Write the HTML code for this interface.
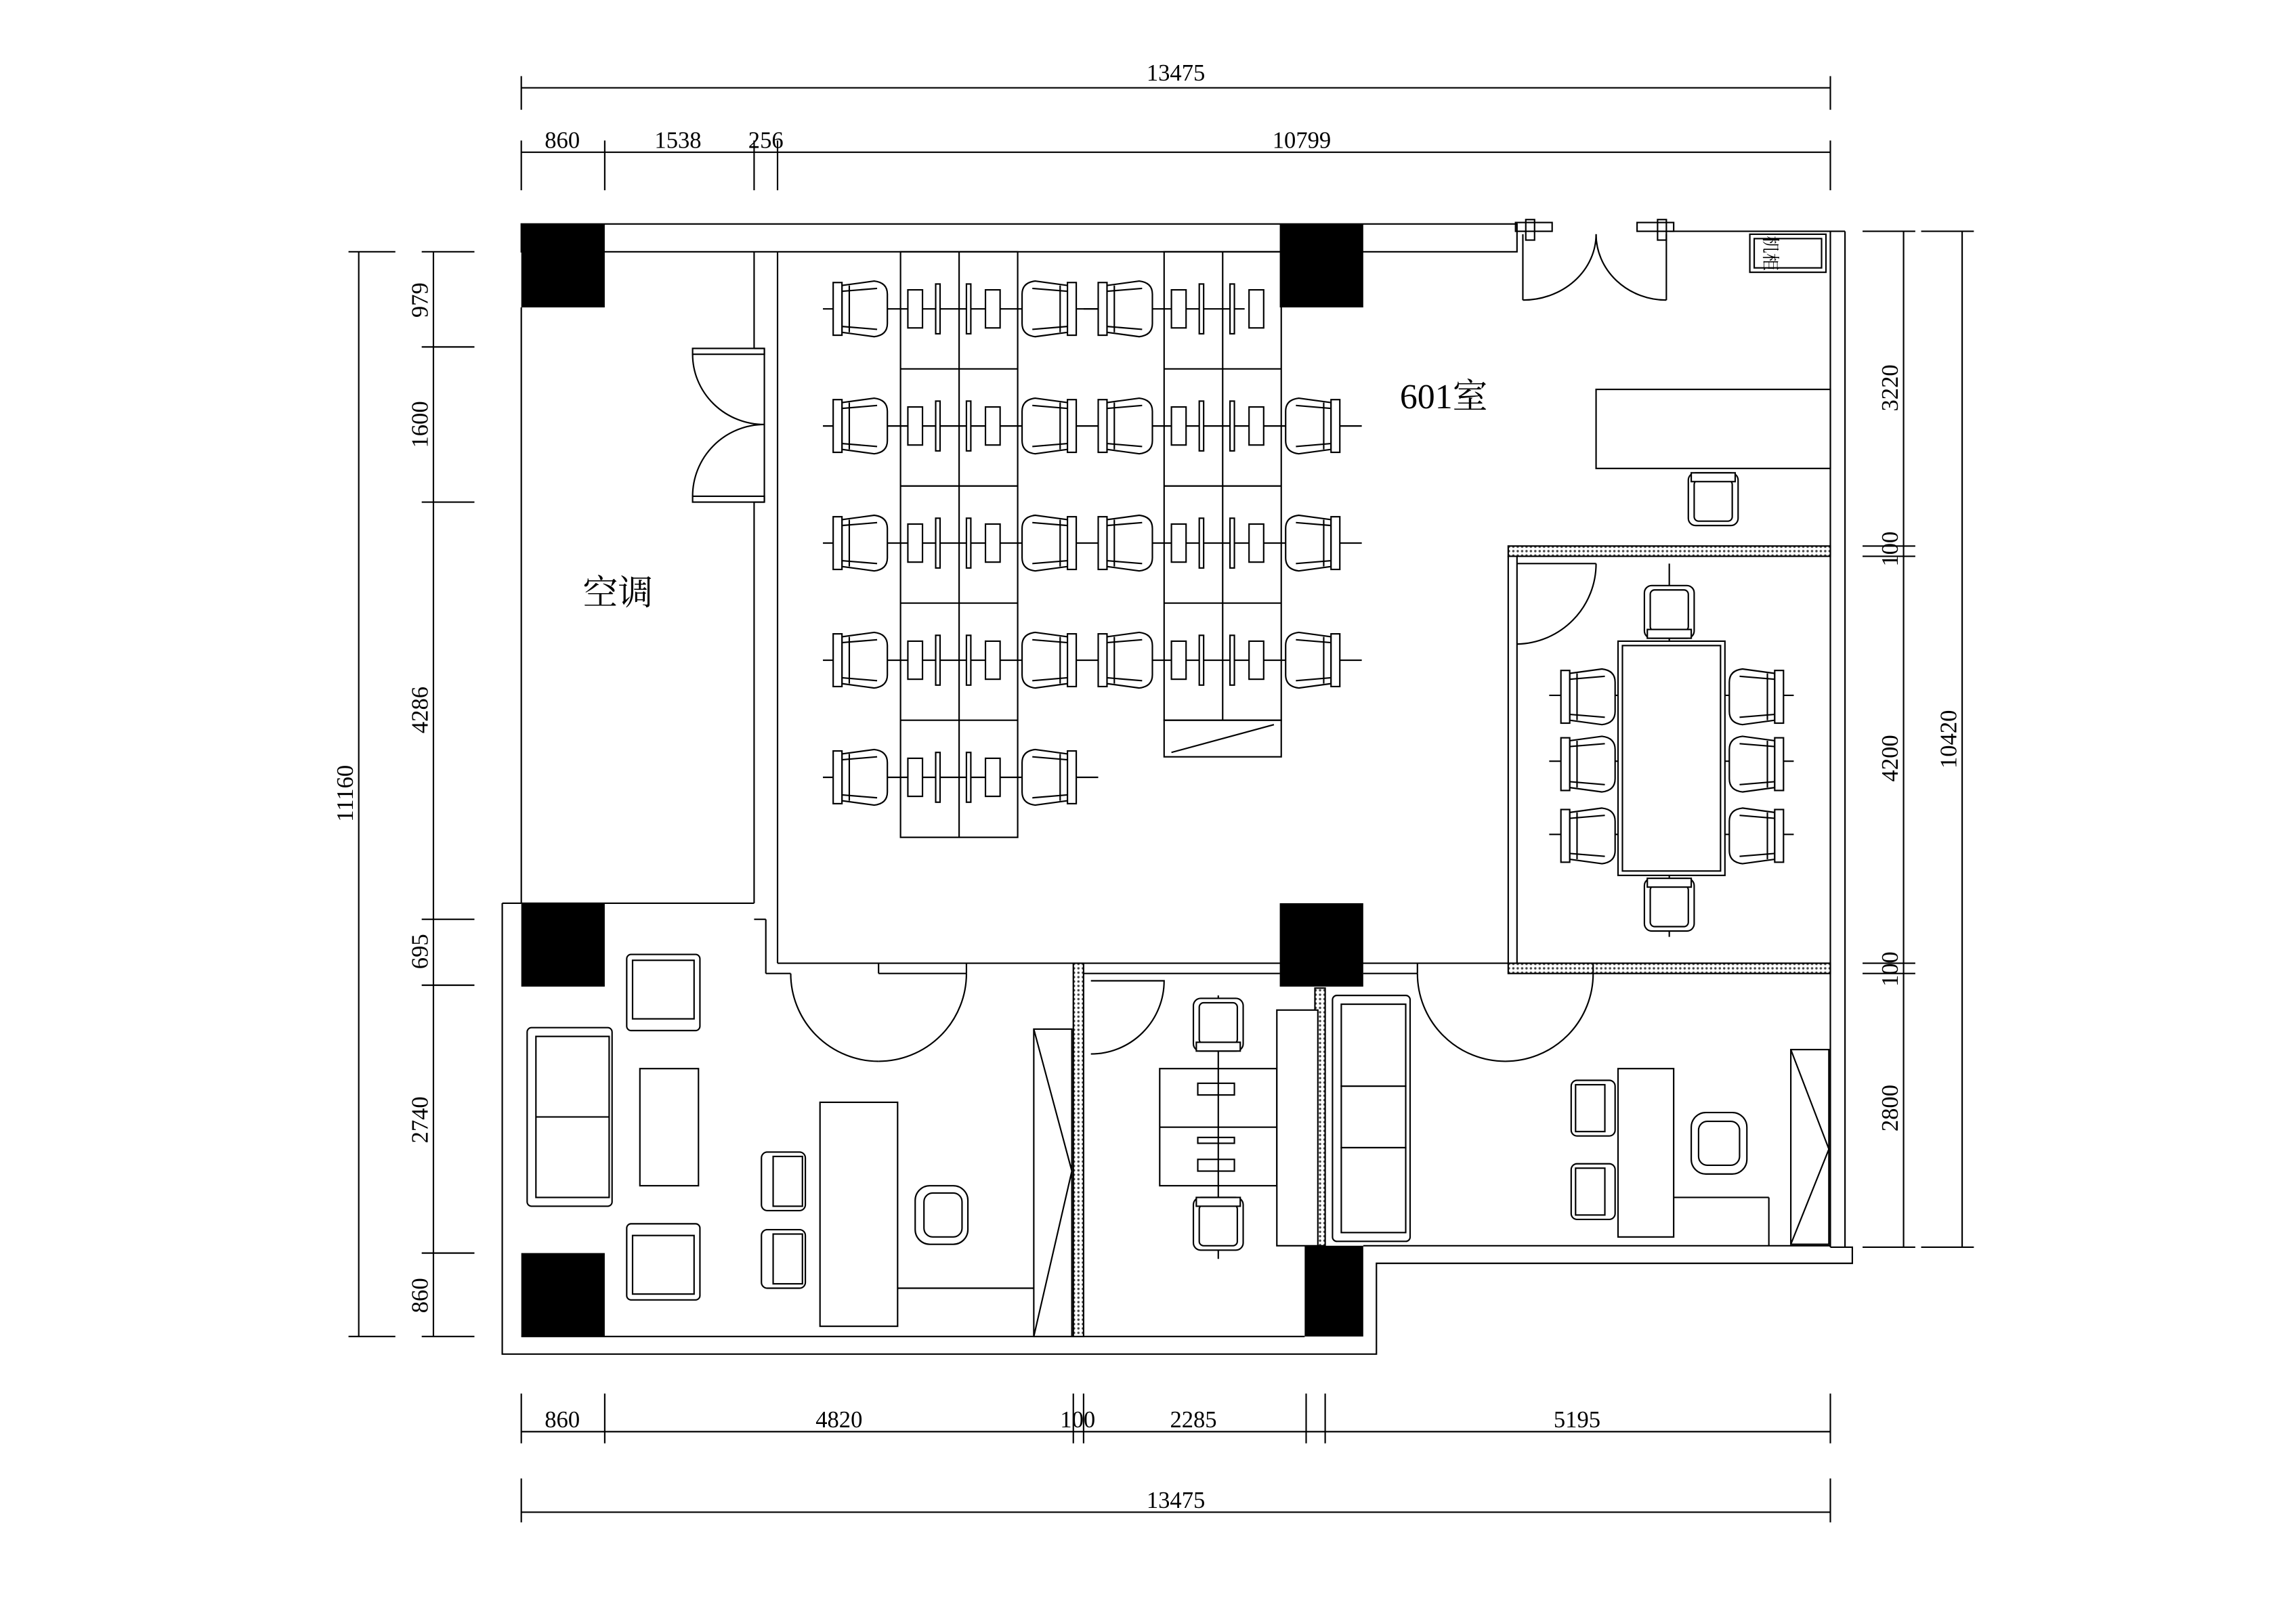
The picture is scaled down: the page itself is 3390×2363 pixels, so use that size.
<!DOCTYPE html>
<html><head><meta charset="utf-8"><style>
html,body{margin:0;padding:0;background:#fff}
svg{display:block}
text{font-family:"Liberation Serif","Noto Serif CJK SC",serif;fill:#000}
</style></head><body>
<svg width="3390" height="2363" viewBox="0 0 1568 1093" preserveAspectRatio="none" xmlns="http://www.w3.org/2000/svg">
<defs>
<pattern id="h" width="3" height="3" patternUnits="userSpaceOnUse"><rect width="3" height="3" fill="#fff"/><circle cx="1.5" cy="1.5" r="0.8" fill="#444"/></pattern>
<g id="chR" fill="#fff" stroke="#000" stroke-width="1">
<path d="M6 4 L28 1 Q37 2 37 10 L37 30 Q37 38 28 39 L6 36 Z"/>
<rect x="0" y="2" width="6" height="36"/><line x1="11" y1="4" x2="11" y2="36"/>
<line x1="6" y1="8" x2="30" y2="6"/><line x1="6" y1="32" x2="30" y2="34"/>
</g>
<g id="chL"><use href="#chR" transform="translate(37,0) scale(-1,1)"/></g>
<g id="chD" fill="#fff" stroke="#000" stroke-width="1">
<rect x="0" y="0" width="34" height="36" rx="5"/><rect x="4" y="3" width="26" height="28" rx="3"/><rect x="2" y="30" width="30" height="6"/>
</g>
<g id="chU" fill="#fff" stroke="#000" stroke-width="1">
<rect x="0" y="0" width="34" height="36" rx="5"/><rect x="4" y="5" width="26" height="28" rx="3"/><rect x="2" y="0" width="30" height="6"/>
</g>
<g id="monL" fill="#fff" stroke="#000"><rect x="0" y="-13" width="10" height="26"/><rect x="19" y="-17" width="3" height="34"/></g>
<g id="monR" fill="#fff" stroke="#000"><rect x="0" y="-17" width="3" height="34"/><rect x="13" y="-13" width="10" height="26"/></g>
</defs>
<g stroke="#000" stroke-width="1" fill="none">
<line x1="356" y1="60" x2="1250" y2="60"/>
<line x1="356" y1="52" x2="356" y2="75"/><line x1="1250" y1="52" x2="1250" y2="75"/>
<line x1="356" y1="104" x2="1250" y2="104"/>
<line x1="356" y1="96" x2="356" y2="130"/><line x1="413" y1="96" x2="413" y2="130"/><line x1="515" y1="96" x2="515" y2="130"/><line x1="531" y1="96" x2="531" y2="130"/><line x1="1250" y1="96" x2="1250" y2="130"/>
<line x1="245" y1="172" x2="245" y2="913"/>
<line x1="238" y1="172" x2="270" y2="172"/><line x1="238" y1="913" x2="270" y2="913"/>
<line x1="296" y1="172" x2="296" y2="913"/>
<line x1="288" y1="172" x2="324" y2="172"/><line x1="288" y1="237" x2="324" y2="237"/><line x1="288" y1="343" x2="324" y2="343"/><line x1="288" y1="628" x2="324" y2="628"/><line x1="288" y1="673" x2="324" y2="673"/><line x1="288" y1="856" x2="324" y2="856"/><line x1="288" y1="913" x2="324" y2="913"/>
<line x1="1300" y1="158" x2="1300" y2="852"/>
<line x1="1272" y1="158" x2="1308" y2="158"/><line x1="1272" y1="373" x2="1308" y2="373"/><line x1="1272" y1="380" x2="1308" y2="380"/><line x1="1272" y1="658" x2="1308" y2="658"/><line x1="1272" y1="665" x2="1308" y2="665"/><line x1="1272" y1="852" x2="1308" y2="852"/>
<line x1="1340" y1="158" x2="1340" y2="852"/>
<line x1="1312" y1="158" x2="1348" y2="158"/><line x1="1312" y1="852" x2="1348" y2="852"/>
<line x1="356" y1="978" x2="1250" y2="978"/>
<line x1="356" y1="952" x2="356" y2="986"/><line x1="413" y1="952" x2="413" y2="986"/><line x1="733" y1="952" x2="733" y2="986"/><line x1="740" y1="952" x2="740" y2="986"/><line x1="892" y1="952" x2="892" y2="986"/><line x1="905" y1="952" x2="905" y2="986"/><line x1="1250" y1="952" x2="1250" y2="986"/>
<line x1="356" y1="1033" x2="1250" y2="1033"/>
<line x1="356" y1="1010" x2="356" y2="1040"/><line x1="1250" y1="1010" x2="1250" y2="1040"/>

<rect x="356" y="153" width="680" height="19"/>
<line x1="1140" y1="158" x2="1260" y2="158"/>
<line x1="1250" y1="158" x2="1250" y2="852"/><line x1="1260" y1="158" x2="1260" y2="852"/>
<polyline points="343,617 343,925 940,925 940,863 1265,863 1265,852 1250,852"/>
<line x1="356" y1="913" x2="891" y2="913"/>
<line x1="931" y1="851" x2="1250" y2="851"/>
<line x1="343" y1="617" x2="356" y2="617"/>
<line x1="356" y1="210" x2="356" y2="617"/>
<path d="M1090 160 A50 45 0 0 1 1040 205"/><line x1="1040" y1="160" x2="1040" y2="205"/>
<path d="M1090 160 A48 45 0 0 0 1138 205"/><line x1="1138" y1="160" x2="1138" y2="205"/>
<rect x="1035" y="152" width="25" height="6"/><rect x="1118" y="152" width="25" height="6"/>
<rect x="1042" y="150" width="6" height="14"/><rect x="1132" y="150" width="6" height="14"/>
<rect x="1195" y="160" width="52" height="26"/><rect x="1198" y="163" width="46" height="20"/>

<line x1="515" y1="172" x2="515" y2="238"/><line x1="515" y1="343" x2="515" y2="617"/>
<line x1="356" y1="617" x2="515" y2="617"/>
<line x1="531" y1="172" x2="531" y2="658"/>
<line x1="522" y1="238" x2="522" y2="343"/><line x1="515" y1="238" x2="522" y2="238"/><line x1="515" y1="343" x2="522" y2="343"/>
<rect x="473" y="238" width="49" height="4"/><rect x="473" y="339" width="49" height="4"/>
<path d="M473 242 A49 48 0 0 0 522 290"/><path d="M473 339 A49 49 0 0 1 522 290"/>
<line x1="515" y1="628" x2="523" y2="628"/><line x1="523" y1="628" x2="523" y2="665"/>

<rect x="615" y="172" width="80" height="400"/>
<line x1="655" y1="172" x2="655" y2="572"/>
<line x1="615" y1="252" x2="695" y2="252"/><line x1="615" y1="332" x2="695" y2="332"/><line x1="615" y1="412" x2="695" y2="412"/><line x1="615" y1="492" x2="695" y2="492"/>
<rect x="795" y="172" width="80" height="320"/>
<line x1="835" y1="172" x2="835" y2="492"/>
<line x1="795" y1="252" x2="875" y2="252"/><line x1="795" y1="332" x2="875" y2="332"/><line x1="795" y1="412" x2="875" y2="412"/>
<rect x="795" y="492" width="80" height="25"/><line x1="800" y1="514" x2="870" y2="495"/>
</g>
<g stroke="#000"><line x1="562" y1="211" x2="750" y2="211"/><line x1="562" y1="291" x2="930" y2="291"/><line x1="562" y1="371" x2="930" y2="371"/><line x1="562" y1="451" x2="930" y2="451"/><line x1="562" y1="531" x2="750" y2="531"/><line x1="740" y1="211" x2="850" y2="211"/></g>
<use href="#monL" x="620" y="211"/><use href="#monR" x="660" y="211"/>
<use href="#monL" x="620" y="291"/><use href="#monR" x="660" y="291"/>
<use href="#monL" x="620" y="371"/><use href="#monR" x="660" y="371"/>
<use href="#monL" x="620" y="451"/><use href="#monR" x="660" y="451"/>
<use href="#monL" x="620" y="531"/><use href="#monR" x="660" y="531"/>
<use href="#monL" x="800" y="211"/><use href="#monR" x="840" y="211"/>
<use href="#monL" x="800" y="291"/><use href="#monR" x="840" y="291"/>
<use href="#monL" x="800" y="371"/><use href="#monR" x="840" y="371"/>
<use href="#monL" x="800" y="451"/><use href="#monR" x="840" y="451"/>
<use href="#chR" x="569" y="191"/><use href="#chR" x="569" y="271"/><use href="#chR" x="569" y="351"/><use href="#chR" x="569" y="431"/><use href="#chR" x="569" y="511"/>
<use href="#chL" x="698" y="191"/><use href="#chL" x="698" y="271"/><use href="#chL" x="698" y="351"/><use href="#chL" x="698" y="431"/><use href="#chL" x="698" y="511"/>
<use href="#chR" x="750" y="191"/><use href="#chR" x="750" y="271"/><use href="#chR" x="750" y="351"/><use href="#chR" x="750" y="431"/>
<use href="#chL" x="878" y="271"/><use href="#chL" x="878" y="351"/><use href="#chL" x="878" y="431"/>
<rect x="1090" y="266" width="160" height="54" fill="#fff" stroke="#000"/>
<use href="#chU" x="1153" y="323"/>
<rect x="1030" y="373" width="220" height="7" fill="url(#h)" stroke="#000"/>
<rect x="1030" y="658" width="220" height="7" fill="url(#h)" stroke="#000"/>
<line x1="1030" y1="380" x2="1030" y2="658" stroke="#000"/><line x1="1036" y1="380" x2="1036" y2="658" stroke="#000"/>
<path d="M1036 440 A55 55 0 0 0 1090 385" fill="none" stroke="#000"/><line x1="1036" y1="385" x2="1090" y2="385" stroke="#000"/>
<line x1="1140" y1="385" x2="1140" y2="640" stroke="#000"/>
<line x1="1058" y1="475" x2="1225" y2="475" stroke="#000"/><line x1="1058" y1="520" x2="1225" y2="520" stroke="#000"/><line x1="1058" y1="570" x2="1225" y2="570" stroke="#000"/>
<use href="#chD" x="1123" y="400"/><use href="#chU" x="1123" y="600"/>
<use href="#chR" x="1066" y="456"/><use href="#chR" x="1066" y="502"/><use href="#chR" x="1066" y="551"/>
<use href="#chL" x="1181" y="456"/><use href="#chL" x="1181" y="502"/><use href="#chL" x="1181" y="551"/>
<rect x="1105" y="438" width="73" height="160" fill="#fff" stroke="#000"/><rect x="1108" y="441" width="67" height="154" fill="none" stroke="#000"/>

<g stroke="#000" fill="none">
<line x1="531" y1="658" x2="1030" y2="658"/><line x1="523" y1="665" x2="540" y2="665"/>
<line x1="600" y1="658" x2="600" y2="665"/><line x1="600" y1="665" x2="660" y2="665"/><line x1="660" y1="658" x2="660" y2="665"/>
<line x1="931" y1="665" x2="968" y2="665"/><line x1="968" y1="658" x2="968" y2="665"/><line x1="1088" y1="665" x2="1088" y2="658"/>
<path d="M540 665 A60 60 0 0 0 600 725"/>
<path d="M660 665 A60 60 0 0 1 600 725"/>
<path d="M968 665 A60 60 0 0 0 1028 725"/>
<path d="M1088 665 A60 60 0 0 1 1028 725"/>
<line x1="740" y1="665" x2="874" y2="665"/>
<path d="M745 720 A50 50 0 0 0 795 670 L745 670"/>
</g>
<rect x="733" y="658" width="7" height="255" fill="url(#h)" stroke="#000"/>
<rect x="898" y="675" width="7" height="176" fill="url(#h)" stroke="#000"/>
<g fill="#fff" stroke="#000">
<rect x="428" y="652" width="50" height="52" rx="3"/><rect x="432" y="656" width="42" height="40"/>
<rect x="428" y="836" width="50" height="52" rx="3"/><rect x="432" y="844" width="42" height="40"/>
<rect x="360" y="702" width="58" height="122" rx="3"/><rect x="366" y="708" width="50" height="110"/><line x1="366" y1="763" x2="416" y2="763"/>
<rect x="437" y="730" width="40" height="80"/>
<rect x="560" y="753" width="53" height="153"/>
<line x1="613" y1="880" x2="706" y2="880"/>
<rect x="706" y="703" width="26" height="210"/><line x1="706" y1="703" x2="732" y2="800"/><line x1="732" y1="800" x2="706" y2="913"/>
<rect x="520" y="787" width="30" height="40" rx="4"/><rect x="528" y="790" width="20" height="34"/>
<rect x="520" y="840" width="30" height="40" rx="4"/><rect x="528" y="843" width="20" height="34"/>
<rect x="625" y="810" width="36" height="40" rx="10"/><rect x="631" y="815" width="26" height="30" rx="6"/>
</g>
<g fill="#fff" stroke="#000">
<rect x="792" y="730" width="80" height="80"/><line x1="792" y1="770" x2="900" y2="770"/>
<rect x="818" y="740" width="25" height="8"/><rect x="818" y="777" width="25" height="4"/><rect x="818" y="792" width="25" height="8"/>
<rect x="872" y="690" width="28" height="161"/>
<line x1="832" y1="680" x2="832" y2="860"/>
</g>
<use href="#chD" x="815" y="682"/><use href="#chU" x="815" y="818"/>
<g fill="#fff" stroke="#000">
<rect x="910" y="680" width="53" height="168" rx="3"/><rect x="916" y="686" width="44" height="56"/><rect x="916" y="742" width="44" height="42"/><rect x="916" y="784" width="44" height="58"/>
<rect x="1105" y="730" width="38" height="115"/>
<line x1="1143" y1="818" x2="1208" y2="818"/><line x1="1208" y1="818" x2="1208" y2="851"/>
<rect x="1223" y="717" width="26" height="133"/><line x1="1223" y1="717" x2="1249" y2="785"/><line x1="1249" y1="785" x2="1223" y2="850"/>
<rect x="1073" y="738" width="30" height="38" rx="4"/><rect x="1076" y="741" width="20" height="32"/>
<rect x="1073" y="795" width="30" height="38" rx="4"/><rect x="1076" y="798" width="20" height="32"/>
<rect x="1155" y="760" width="38" height="42" rx="10"/><rect x="1160" y="766" width="28" height="30" rx="6"/>
</g>
<g fill="#000">
<rect x="356" y="153" width="57" height="57"/><rect x="874" y="153" width="57" height="57"/>
<rect x="356" y="617" width="57" height="57"/><rect x="874" y="617" width="57" height="57"/>
<rect x="356" y="856" width="57" height="57"/><rect x="891" y="851" width="40" height="62"/>
</g>
<g font-size="16" text-anchor="middle">
<text x="803" y="55">13475</text>
<text x="384" y="101">860</text><text x="463" y="101">1538</text><text x="523" y="101">256</text><text x="889" y="101">10799</text>
<text x="384" y="975">860</text><text x="573" y="975">4820</text><text x="736" y="975">100</text><text x="815" y="975">2285</text><text x="1077" y="975">5195</text>
<text x="803" y="1030">13475</text>
<text transform="translate(292,205) rotate(-90)">979</text>
<text transform="translate(292,290) rotate(-90)">1600</text>
<text transform="translate(292,485) rotate(-90)">4286</text>
<text transform="translate(292,650) rotate(-90)">695</text>
<text transform="translate(292,765) rotate(-90)">2740</text>
<text transform="translate(292,885) rotate(-90)">860</text>
<text transform="translate(241,542) rotate(-90)">11160</text>
<text transform="translate(1296,265) rotate(-90)">3220</text>
<text transform="translate(1296,375) rotate(-90)">100</text>
<text transform="translate(1296,518) rotate(-90)">4200</text>
<text transform="translate(1296,662) rotate(-90)">100</text>
<text transform="translate(1296,757) rotate(-90)">2800</text>
<text transform="translate(1336,505) rotate(-90)">10420</text>
</g>
<text x="986" y="279" font-size="24" text-anchor="middle">601室</text>
<text x="422" y="413" font-size="24" text-anchor="middle">空调</text>
<text transform="translate(1205,173) rotate(90)" font-size="12" text-anchor="middle">机柜</text>
</svg>
</body></html>
